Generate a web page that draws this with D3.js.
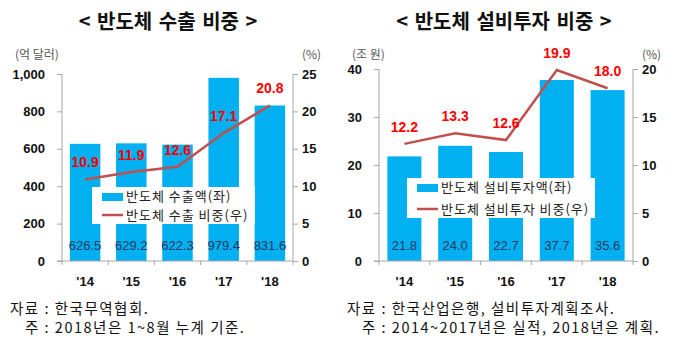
<!DOCTYPE html>
<html><head><meta charset="utf-8">
<script src="https://cdn.jsdelivr.net/npm/d3@7"></script>
<style>
body{margin:0;background:#fff;}
text{font-family:"Liberation Sans",Arial,sans-serif;}
.kr{font-family:"Noto Sans CJK KR","Noto Sans",sans-serif;}
</style></head><body>
<svg id="c" width="680" height="353"></svg>
<script>
const years = ["'14","'15","'16","'17","'18"];
const exportAmount = [626.5, 629.2, 622.3, 979.4, 831.6];
const exportShare = [10.9, 11.9, 12.6, 17.1, 20.8];
const investAmount = [21.8, 24.0, 22.7, 37.7, 35.6];
const investShare = [12.2, 13.3, 12.6, 19.9, 18.0];
const leftTicksA = [0, 200, 400, 600, 800, 1000];
const rightTicksA = [0, 5, 10, 15, 20, 25];
const leftTicksB = [0, 10, 20, 30, 40];
const rightTicksB = [0, 5, 10, 15, 20];

const svg = d3.select("#c");
const BAR = "#00b0f0", LINE = "#c0504d", AX = "#a6a6a6";

function chart(o){
  const g = svg.append("g");
  const x = d3.scaleBand().domain(years).range([o.x0, o.x1]).paddingInner(o.pad).paddingOuter(o.pad/2);
  const yL = d3.scaleLinear().domain([0, o.lmax]).range([o.y0, o.y1]);
  const yR = d3.scaleLinear().domain([0, o.rmax]).range([o.y0, o.y1]);

  // title
  g.append("text").attr("class","kr").attr("x",o.tx).attr("y",29).attr("text-anchor","middle")
    .attr("font-size",20).attr("font-weight","bold").attr("fill","#111").attr("word-spacing",2).text(o.title);
  g.append("text").attr("class","kr").attr("x",o.ux).attr("y",59).attr("font-size",12).attr("fill","#555").text(o.unitL);
  g.append("text").attr("class","kr").attr("x",o.x1+9).attr("y",59).attr("font-size",12).attr("fill","#555").text("(%)");

  // bars
  g.selectAll(".bar").data(o.bars).join("rect")
    .attr("x",(d,i)=>x(years[i])).attr("width",x.bandwidth())
    .attr("y",d=>yL(d)).attr("height",d=>yL(0)-yL(d)).attr("fill",BAR);

  // axes
  const axL = d3.axisLeft(yL).tickValues(o.lticks).tickSize(5).tickPadding(12)
    .tickFormat(d3.format(","));
  const axR = d3.axisRight(yR).tickValues(o.rticks).tickSize(5).tickPadding(4);
  const axB = d3.axisBottom(x).tickSize(0).tickPadding(16);
  const gl = g.append("g").attr("transform",`translate(${o.x0},0)`).call(axL);
  const gr = g.append("g").attr("transform",`translate(${o.x1},0)`).call(axR);
  [gl,gr].forEach(a=>{
    a.select(".domain").attr("stroke",AX).attr("d",`M0,${o.y0}V${o.y1}`);
    a.selectAll(".tick line").attr("stroke",AX);
    a.selectAll("text").attr("font-size",13).attr("font-weight","bold").attr("fill","#111")
      .attr("font-family","Liberation Sans, Arial, sans-serif");
  });
  const gb = g.append("g").attr("transform",`translate(0,${o.y0})`).call(axB);
  gb.select(".domain").attr("stroke",AX).attr("d",`M${o.x0-5},0H${o.x1}`);
  gb.selectAll("text").attr("font-size",13).attr("font-weight","bold").attr("fill","#111")
    .attr("font-family","Liberation Sans, Arial, sans-serif");
  // band boundary ticks
  const step = x.step();
  g.selectAll(".bt").data(d3.range(years.length+1)).join("line")
    .attr("x1",i=>o.x0+i*step).attr("x2",i=>o.x0+i*step)
    .attr("y1",o.y0).attr("y2",o.y0+4).attr("stroke",AX);

  // legend
  g.append("rect").attr("x",o.lg.x).attr("y",o.lg.y).attr("width",o.lg.w).attr("height",o.lg.h).attr("fill","#fff");
  g.append("rect").attr("x",o.lg.x+10).attr("y",o.lg.y+6).attr("width",21).attr("height",8).attr("fill",BAR);
  g.append("line").attr("x1",o.lg.x+10).attr("x2",o.lg.x+31).attr("y1",o.lg.y+o.lg.h-9).attr("y2",o.lg.y+o.lg.h-9)
    .attr("stroke",LINE).attr("stroke-width",2.5);
  g.append("text").attr("class","kr").attr("x",o.lg.x+34).attr("y",o.lg.y+14).attr("font-size",13)
    .attr("letter-spacing",1).attr("fill","#222").attr("xml:space","preserve").text(o.leg1);
  g.append("text").attr("class","kr").attr("x",o.lg.x+34).attr("y",o.lg.y+o.lg.h-4).attr("font-size",13)
    .attr("letter-spacing",1).attr("fill","#222").attr("xml:space","preserve").text(o.leg2);

  // bar values
  g.selectAll(".bv").data(o.bars).join("text")
    .attr("x",(d,i)=>x(years[i])+x.bandwidth()/2).attr("y",o.y0-11).attr("text-anchor","middle")
    .attr("font-size",13).attr("fill","#1f3864").text(d=>d.toFixed(1));

  // line
  const line = d3.line().x((d,i)=>x(years[i])+x.bandwidth()/2).y(d=>yR(d));
  g.append("path").attr("d",line(o.line)).attr("fill","none").attr("stroke",LINE).attr("stroke-width",2.5);
  g.selectAll(".lv").data(o.line).join("text")
    .attr("x",(d,i)=>x(years[i])+x.bandwidth()/2).attr("y",d=>yR(d)-12).attr("text-anchor","middle")
    .attr("font-size",14).attr("font-weight","bold").attr("fill","#ff0000").text(d=>d.toFixed(1));

  // notes
  g.append("text").attr("class","kr").attr("x",o.nx).attr("y",314).attr("font-size",14.5).attr("letter-spacing",1.5)
    .attr("fill","#111").attr("xml:space","preserve").text(o.note1);
  g.append("text").attr("class","kr").attr("x",o.nx+15).attr("y",333).attr("font-size",14.5).attr("letter-spacing",1.5)
    .attr("fill","#111").attr("xml:space","preserve").text(o.note2);
}

chart({title:"< 반도체 수출 비중 >", tx:168, unitL:"(억 달러)", ux:15,
  x0:62, x1:293, y0:261, y1:74, pad:0.34, lmax:1000, rmax:25,
  lticks:leftTicksA, rticks:rightTicksA, bars:exportAmount, line:exportShare,
  lg:{x:92,y:187,w:163,h:37}, leg1:"반도체 수출액(좌)", leg2:"반도체 수출 비중(우)",
  nx:10, note1:"자료 : 한국무역협회.", note2:"주 : 2018년은 1~8월 누계 기준."});

chart({title:"< 반도체 설비투자 비중 >", tx:504, unitL:"(조 원)", ux:352,
  x0:379, x1:633, y0:261, y1:69, pad:0.33, lmax:40, rmax:20,
  lticks:leftTicksB, rticks:rightTicksB, bars:investAmount, line:investShare,
  lg:{x:407,y:178,w:188,h:40}, leg1:"반도체 설비투자액(좌)", leg2:"반도체 설비투자 비중(우)",
  nx:347, note1:"자료 : 한국산업은행, 설비투자계획조사.", note2:"주 : 2014~2017년은 실적, 2018년은 계획."});
</script></body></html>
